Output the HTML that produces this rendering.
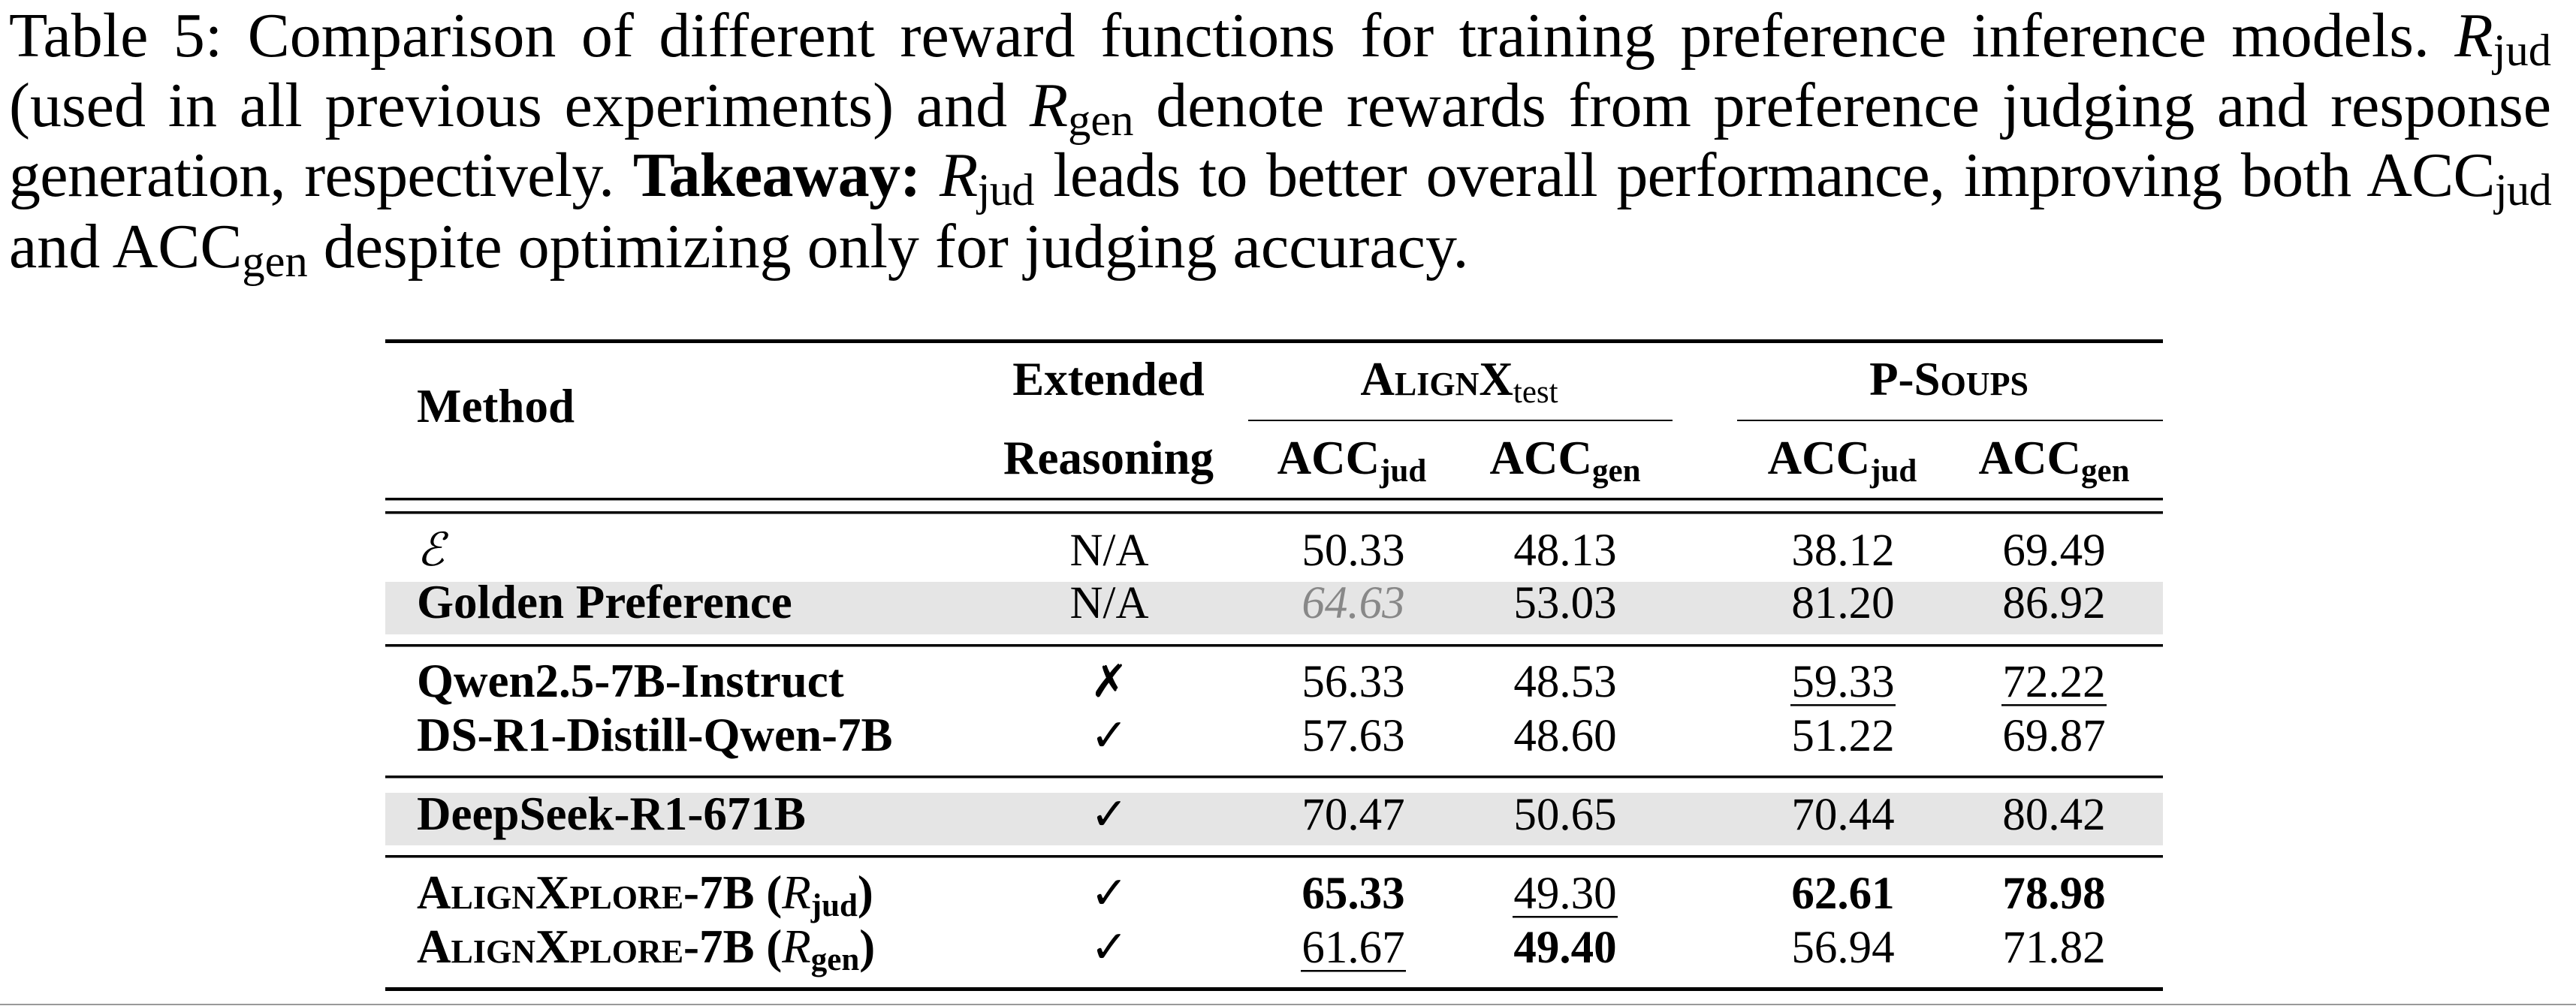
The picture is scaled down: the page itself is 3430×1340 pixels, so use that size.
<!DOCTYPE html>
<html><head><meta charset="utf-8"><style>
html,body{margin:0;padding:0;background:#fff;}
svg{display:block;position:absolute;left:0;top:0;}
text{font-family:"Liberation Serif","DejaVu Serif",serif;fill:#000;}
.t{font-size:61px;}
.m{font-size:63px;}
.b{font-weight:bold;}
.sc{font-variant:small-caps;}
.cap{position:absolute;left:12px;width:3385px;font-family:"Liberation Serif",serif;font-size:84px;line-height:1.1;white-space:nowrap;z-index:2;overflow:visible;}
.j{text-align:justify;text-align-last:justify;}
.s{font-size:0.72em;position:relative;top:0.2em;}
i{font-style:italic;}
</style></head><body>
<svg width="3430" height="1340" viewBox="0 0 3430 1340" xmlns="http://www.w3.org/2000/svg">
<rect width="3430" height="1340" fill="#fff"/>
<rect x="513" y="775" width="2367" height="70" fill="#e5e5e5"/>
<rect x="513" y="1056" width="2367" height="70" fill="#e5e5e5"/>

<rect x="513" y="452" width="2367" height="5" fill="#000"/>
<rect x="1662" y="559" width="565" height="2" fill="#000"/>
<rect x="2313" y="559" width="567" height="2" fill="#000"/>
<rect x="513" y="663" width="2367" height="3.5" fill="#000"/>
<rect x="513" y="681" width="2367" height="3.5" fill="#000"/>
<rect x="513" y="858" width="2367" height="3.5" fill="#000"/>
<rect x="513" y="1033" width="2367" height="3.5" fill="#000"/>
<rect x="513" y="1139" width="2367" height="3.5" fill="#000"/>
<rect x="513" y="1315" width="2367" height="5" fill="#000"/>
<rect x="0" y="1337" width="3430" height="2" fill="#999"/>

<text class="m b" x="555" y="562">Method</text>
<text class="m b" x="1476" y="526" text-anchor="middle">Extended</text>
<text class="m b" x="1476" y="631" text-anchor="middle">Reasoning</text>
<text class="m b sc" x="1943" y="526" text-anchor="middle">AlignX<tspan font-size="43" dy="10" font-weight="normal" style="font-variant:normal">test</tspan></text>
<text class="m b sc" x="2595" y="526" text-anchor="middle">P-Soups</text>
<text class="m b" x="1800" y="631" text-anchor="middle">ACC<tspan font-size="43" dy="10">jud</tspan></text>
<text class="m b" x="2084" y="631" text-anchor="middle">ACC<tspan font-size="43" dy="10">gen</tspan></text>
<text class="m b" x="2453" y="631" text-anchor="middle">ACC<tspan font-size="43" dy="10">jud</tspan></text>
<text class="m b" x="2735" y="631" text-anchor="middle">ACC<tspan font-size="43" dy="10">gen</tspan></text>

<text class="t" x="555" y="753" font-style="italic">ℰ</text>
<text class="m b" x="555" y="823">Golden Preference</text>
<text class="m b" x="555" y="928">Qwen2.5-7B-Instruct</text>
<text class="m b" x="555" y="1000">DS-R1-Distill-Qwen-7B</text>
<text class="m b" x="555" y="1105">DeepSeek-R1-671B</text>
<text class="m b" x="555" y="1210"><tspan class="sc">AlignXplore</tspan>-7B (<tspan font-style="italic" font-weight="normal">R</tspan><tspan font-size="43" dy="10">jud</tspan><tspan dy="-10">)</tspan></text>
<text class="m b" x="555" y="1282"><tspan class="sc">AlignXplore</tspan>-7B (<tspan font-style="italic" font-weight="normal">R</tspan><tspan font-size="43" dy="10">gen</tspan><tspan dy="-10">)</tspan></text>

<g text-anchor="middle">
<text class="t" x="1477" y="753">N/A</text>
<text class="t" x="1477" y="823">N/A</text>
<text x="1477" y="928" style="font-family:'DejaVu Sans',sans-serif" font-size="60" font-weight="bold">✗</text>
<text x="1477" y="1000" style="font-family:'DejaVu Sans',sans-serif" font-size="60" font-weight="bold">✓</text>
<text x="1477" y="1105" style="font-family:'DejaVu Sans',sans-serif" font-size="60" font-weight="bold">✓</text>
<text x="1477" y="1210" style="font-family:'DejaVu Sans',sans-serif" font-size="60" font-weight="bold">✓</text>
<text x="1477" y="1282" style="font-family:'DejaVu Sans',sans-serif" font-size="60" font-weight="bold">✓</text>

<text class="t" x="1802" y="753">50.33</text>
<text class="t" x="1802" y="823" font-style="italic" style="fill:#888">64.63</text>
<text class="t" x="1802" y="928">56.33</text>
<text class="t" x="1802" y="1000">57.63</text>
<text class="t" x="1802" y="1105">70.47</text>
<text class="t b" x="1802" y="1210">65.33</text>
<text class="t" x="1802" y="1282">61.67</text>

<text class="t" x="2084" y="753">48.13</text>
<text class="t" x="2084" y="823">53.03</text>
<text class="t" x="2084" y="928">48.53</text>
<text class="t" x="2084" y="1000">48.60</text>
<text class="t" x="2084" y="1105">50.65</text>
<text class="t" x="2084" y="1210">49.30</text>
<text class="t b" x="2084" y="1282">49.40</text>

<text class="t" x="2454" y="753">38.12</text>
<text class="t" x="2454" y="823">81.20</text>
<text class="t" x="2454" y="928">59.33</text>
<text class="t" x="2454" y="1000">51.22</text>
<text class="t" x="2454" y="1105">70.44</text>
<text class="t b" x="2454" y="1210">62.61</text>
<text class="t" x="2454" y="1282">56.94</text>

<text class="t" x="2735" y="753">69.49</text>
<text class="t" x="2735" y="823">86.92</text>
<text class="t" x="2735" y="928">72.22</text>
<text class="t" x="2735" y="1000">69.87</text>
<text class="t" x="2735" y="1105">80.42</text>
<text class="t b" x="2735" y="1210">78.98</text>
<text class="t" x="2735" y="1282">71.82</text>
</g>

<rect x="2384" y="938" width="140" height="2.5" fill="#000"/>
<rect x="2665" y="938" width="140" height="2.5" fill="#000"/>
<rect x="2014" y="1220" width="140" height="2.5" fill="#000"/>
<rect x="1732" y="1292" width="140" height="2.5" fill="#000"/>
</svg>

<div class="cap j" style="top:2px">Table 5: Comparison of different reward functions for training preference inference models. <i>R</i><span class="s">jud</span></div>
<div class="cap j" style="top:95px">(used in all previous experiments) and <i>R</i><span class="s">gen</span> denote rewards from preference judging and response</div>
<div class="cap j" style="top:188px;letter-spacing:-0.7px">generation, respectively. <b>Takeaway:</b> <i>R</i><span class="s">jud</span> leads to better overall performance, improving both ACC<span class="s">jud</span></div>
<div class="cap" style="top:283px">and ACC<span class="s">gen</span> despite optimizing only for judging accuracy.</div>
</body></html>
